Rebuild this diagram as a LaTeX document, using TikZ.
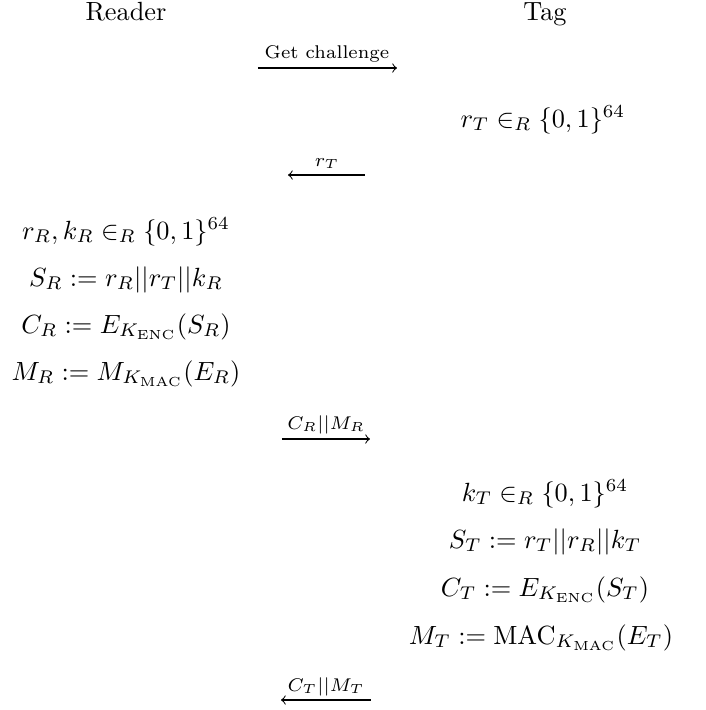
\documentclass[tikz,border=0pt]{standalone}
\usepackage{amsmath}
\tikzset{
  line/.style={anchor=base, inner sep=0pt},
  msg/.style={->, line width=0.4pt},
  lbl/.style={anchor=base, inner sep=0pt, font=\scriptsize},
}
\begin{document}
\begin{tikzpicture}[x=0.38pt, y=-0.38pt]
\useasboundingbox (0,0) rectangle (706,710);
% headers
\node[line] (reader) at (126,20) {Reader};
\node[line] (tag) at (545,20) {Tag};
% message 1
\coordinate (m1s) at (258,68);
\coordinate (m1e) at (397,68);
\draw[msg] (m1s) -- (m1e);
\node[lbl] (m1l) at (327,58) {Get challenge};
% tag step 1
\node[line] (t1) at (543,127) {$r_T \in_R \{0,1\}^{64}$};
% message 2
\coordinate (m2s) at (365,175);
\coordinate (m2e) at (288,175);
\draw[msg] (m2s) -- (m2e);
\node[lbl] (m2l) at (327,166) {$r_T$};
% reader steps
\node[line] (r1) at (126,239) {$r_R, k_R \in_R \{0,1\}^{64}$};
\node[line] (r2) at (126,286) {$S_R := r_R || r_T || k_R$};
\node[line] (r3) at (126,333) {$C_R := E_{K_{\mathrm{ENC}}}(S_R)$};
\node[line] (r4) at (126,380) {$M_R := M_{K_{\mathrm{MAC}}}(E_R)$};
% message 3
\coordinate (m3s) at (282,439);
\coordinate (m3e) at (370,439);
\draw[msg] (m3s) -- (m3e);
\node[lbl] (m3l) at (326,429) {$C_R || M_R$};
% tag steps
\node[line] (t2) at (545,501) {$k_T \in_R \{0,1\}^{64}$};
\node[line] (t3) at (545,548) {$S_T := r_T || r_R || k_T$};
\node[line] (t4) at (545,596) {$C_T := E_{K_{\mathrm{ENC}}}(S_T)$};
\node[line] (t5) at (541,644) {$M_T := \mathrm{MAC}_{K_{\mathrm{MAC}}}(E_T)$};
% message 4
\coordinate (m4s) at (371,700);
\coordinate (m4e) at (281,700);
\draw[msg] (m4s) -- (m4e);
\node[lbl] (m4l) at (326,691) {$C_T || M_T$};
\end{tikzpicture}
\end{document}
